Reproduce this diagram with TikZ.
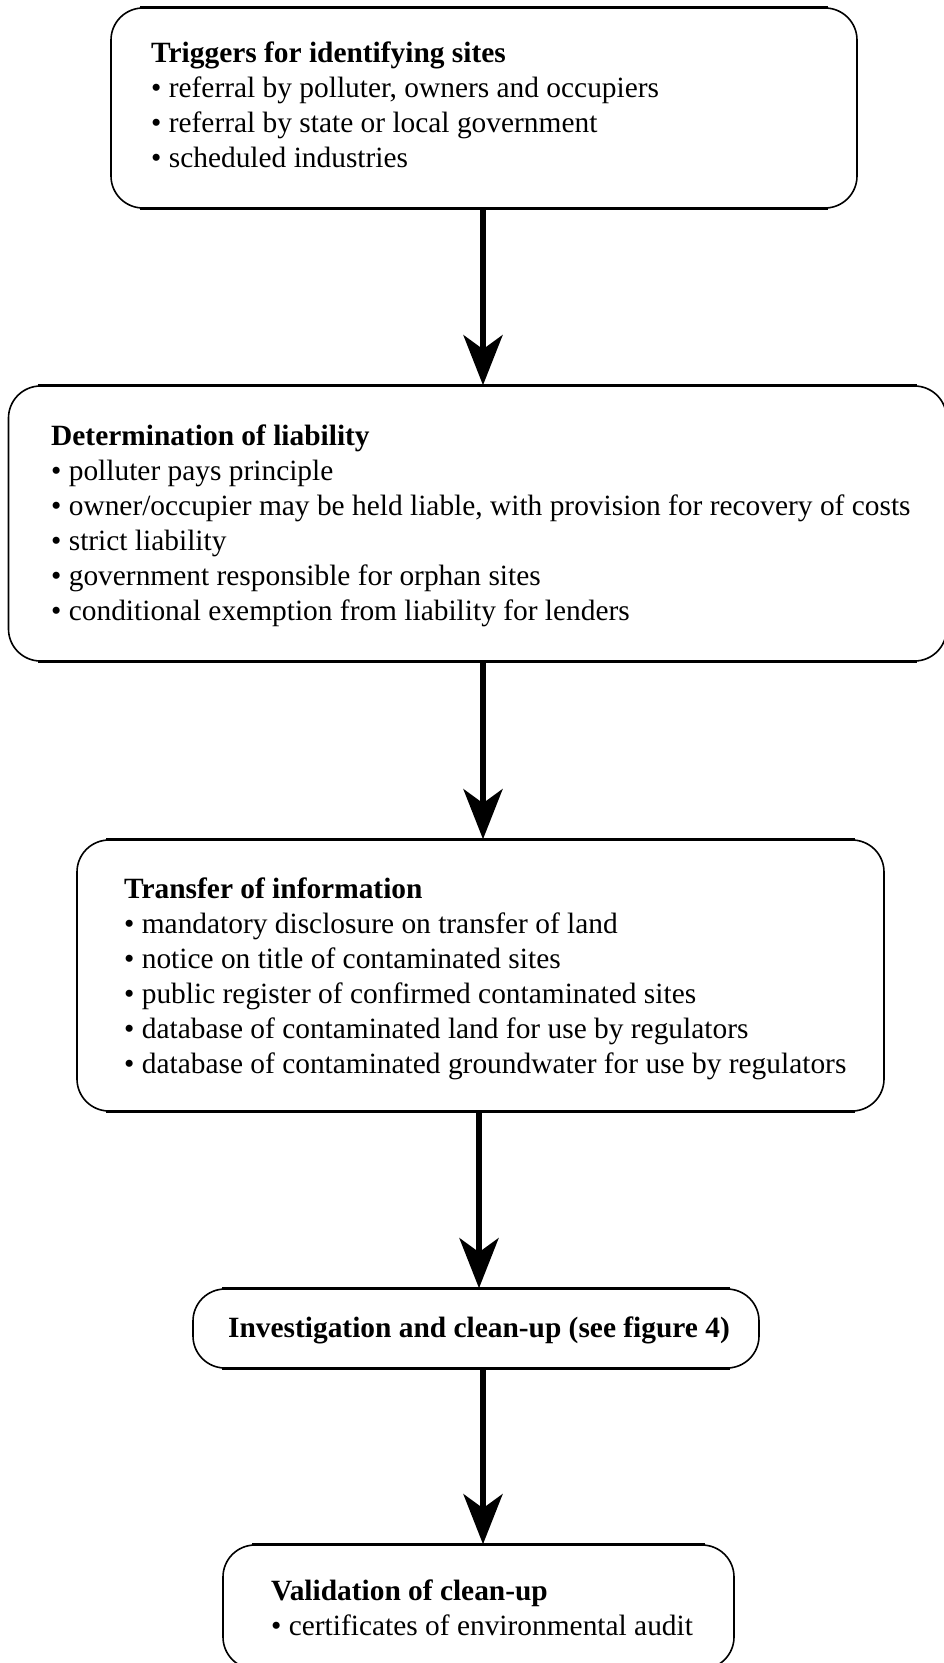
\documentclass[tikz,border=0pt]{standalone}
\usepackage{fontspec}
\setmainfont{Liberation Serif}
\usetikzlibrary{arrows.meta}
\begin{document}
\begin{tikzpicture}[x=1pt,y=-1pt,
  panel/.style={draw=black, line width=1.6pt, rounded corners=32pt, inner sep=0pt},
  rim/.style={line width=3pt},
  body/.style={anchor=base west, align=left, inner sep=0pt,
               font=\fontsize{29.4}{35}\selectfont},
  flow/.style={line width=6pt, -{Stealth[length=50pt,width=39pt,inset=14pt]}}]
\useasboundingbox (0,0) rectangle (944,1663);

% stage boxes
\node[panel, minimum width=746pt, minimum height=200pt] (b1) at (484,108) {};
\node[panel, minimum width=938pt, minimum height=275pt] (b2) at (477.5,523.5) {};
\node[panel, minimum width=807pt, minimum height=271pt] (b3) at (480.5,975.5) {};
\node[panel, minimum width=566pt, minimum height=79pt]  (b4) at (476,1328.5) {};
\node[panel, minimum width=511pt, minimum height=124pt] (b5) at (478.5,1607) {};

% heavier straight top and bottom edges
\foreach \b in {b1,b2,b3,b4,b5}{
  \draw[rim] ([xshift=30pt]\b.north west) -- ([xshift=-30pt]\b.north east);
  \draw[rim] ([xshift=30pt]\b.south west) -- ([xshift=-30pt]\b.south east);
}

% box contents (placed by the baseline of their last line)
\node[body] (t1) at (151,167) {\textbf{Triggers for identifying sites}\\
• referral by polluter, owners and occupiers\\
• referral by state or local government\\
• scheduled industries};

\node[body] (t2) at (51,620) {\textbf{Determination of liability}\\
• polluter pays principle\\
• owner/occupier may be held liable, with provision for recovery of costs\\
• strict liability\\
• government responsible for orphan sites\\
• conditional exemption from liability for lenders};

\node[body] (t3) at (124,1073) {\textbf{Transfer of information}\\
• mandatory disclosure on transfer of land\\
• notice on title of contaminated sites\\
• public register of confirmed contaminated sites\\
• database of contaminated land for use by regulators\\
• database of contaminated groundwater for use by regulators};

\node[anchor=base, inner sep=0pt, font=\fontsize{29.4}{35}\selectfont\bfseries]
  (t4) at (479,1337) {Investigation and clean-up (see figure 4)};

\node[body] (t5) at (271,1635) {\textbf{Validation of clean-up}\\
• certificates of environmental audit};

% flow arrows
\coordinate (ax) at (483,0);
\coordinate (ay) at (479,0);
\draw[flow] (b1.south -| ax) -- (b2.north -| ax);
\draw[flow] (b2.south -| ax) -- (b3.north -| ax);
\draw[flow] (b3.south -| ay) -- (b4.north -| ay);
\draw[flow] (b4.south -| ax) -- (b5.north -| ax);
\end{tikzpicture}
\end{document}
